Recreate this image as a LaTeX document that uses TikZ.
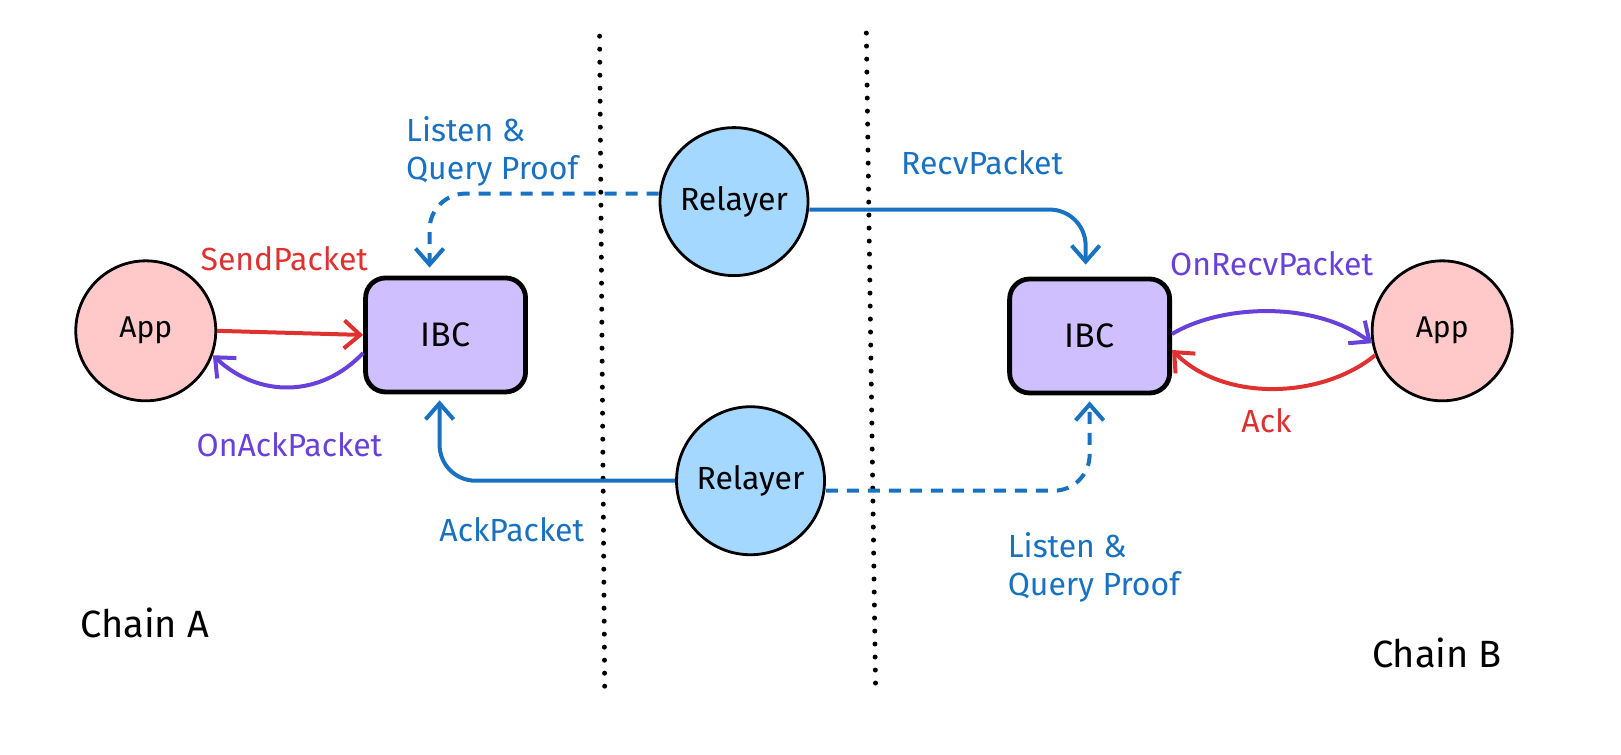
\documentclass[tikz,border=0pt]{standalone}
\usepackage{fontspec}
\setmainfont{Fira Sans}
\usetikzlibrary{arrows.meta,positioning}
\definecolor{appfill}{HTML}{FFC9C9}
\definecolor{ibcfill}{HTML}{D0BFFF}
\definecolor{relfill}{HTML}{A5D8FF}
\definecolor{linkblue}{HTML}{1971C2}
\definecolor{linkred}{HTML}{E03131}
\definecolor{linkviolet}{HTML}{6741D9}
\tikzset{
	app/.style     = {circle, draw, fill = appfill, line width = 1.4pt,
		minimum size = 70pt, inner sep = 0pt, font = \fontsize{15}{17}\selectfont},
	ibc/.style     = {rectangle, rounded corners = 10pt, draw, fill = ibcfill,
		line width = 2.4pt, minimum width = 80pt, minimum height = 57pt,
		font = \fontsize{17}{19}\selectfont},
	relayer/.style = {circle, draw, fill = relfill, line width = 1.4pt,
		minimum size = 74pt, inner sep = 0pt, font = \fontsize{16}{18}\selectfont},
	link/.style    = {line width = 2pt, rounded corners = 18pt,
		-{Straight Barb[length=8pt, width=14pt, line width=2pt]}},
	dashlink/.style = {link, dash pattern = on 6pt off 4.5pt},
	lbl/.style     = {align = left, font = \fontsize{16}{19}\selectfont},
	chain/.style   = {font = \fontsize{19}{22}\selectfont},
	sep/.style     = {line width = 2.5pt, dash pattern = on 0pt off 6.5pt, line cap = round}
}
\begin{document}
\begin{tikzpicture}[x = 0.5169pt, y = -0.5169pt]
	\useasboundingbox (0,0) rectangle (1568,730.3);
	% separators between the chains
	\coordinate (sepAtop) at (580,35);
	\coordinate (sepAbot) at (585,675);
	\coordinate (sepBtop) at (838,32);
	\coordinate (sepBbot) at (847,670);
	\draw[sep] (sepAtop) -- (sepAbot);
	\draw[sep] (sepBtop) -- (sepBbot);
	% nodes
	\node (appA) [app] at (141,320) {App};
	\node (ibcA) [ibc] at (431,324) {IBC};
	\node (ibcB) [ibc] at (1054,325) {IBC};
	\node (appB) [app] at (1395,320) {App};
	\node (relT) [relayer] at (710,195) {Relayer};
	\node (relB) [relayer] at (726,465) {Relayer};
	% relayer links
	\draw[dashlink, linkblue] ([yshift=4pt]relT.west) -| ([xshift=-8pt, yshift=4pt]ibcA.north);
	\draw[link, linkblue] ([yshift=-4pt]relT.east) -| ([xshift=-2pt, yshift=6pt]ibcB.north);
	\draw[link, linkblue] (relB.west) -| ([xshift=-3pt, yshift=-3pt]ibcA.south);
	\draw[dashlink, linkblue] ([yshift=-5pt]relB.east) -| ([yshift=-3pt]ibcB.south);
	% app links
	\draw[link, linkred] (appA.east) -- (ibcA.west);
	\draw[link, linkviolet] ([yshift=-9pt]ibcA.west) .. controls (310,385) and (250,385) .. (appA.-20);
	\draw[link, linkviolet] ([yshift=1pt]ibcB.east) .. controls (1180,295) and (1270,290) .. (appB.190);
	\draw[link, linkred] (appB.200) .. controls (1280,385) and (1185,390) .. ([yshift=-7pt]ibcB.east);
	% labels
	\node (sendLbl)   [lbl, text = linkred] at (275,250) {SendPacket};
	\node (onAckLbl)  [lbl, text = linkviolet] at (280,430) {OnAckPacket};
	\node (listenA)   [lbl, text = linkblue, anchor = north west] at (386,106) {Listen \&\\Query Proof};
	\node (recvLbl)   [lbl, text = linkblue] at (950,157) {RecvPacket};
	\node (ackPktLbl) [lbl, text = linkblue] at (495,512) {AckPacket};
	\node (listenB)   [lbl, text = linkblue, anchor = north west] at (968,508) {Listen \&\\Query Proof};
	\node (onRecvLbl) [lbl, text = linkviolet] at (1230,255) {OnRecvPacket};
	\node (ackLbl)    [lbl, text = linkred] at (1225,407) {Ack};
	\node (chainA)    [chain] at (140,603) {Chain A};
	\node (chainB)    [chain] at (1390,632) {Chain B};
\end{tikzpicture}
\end{document}
